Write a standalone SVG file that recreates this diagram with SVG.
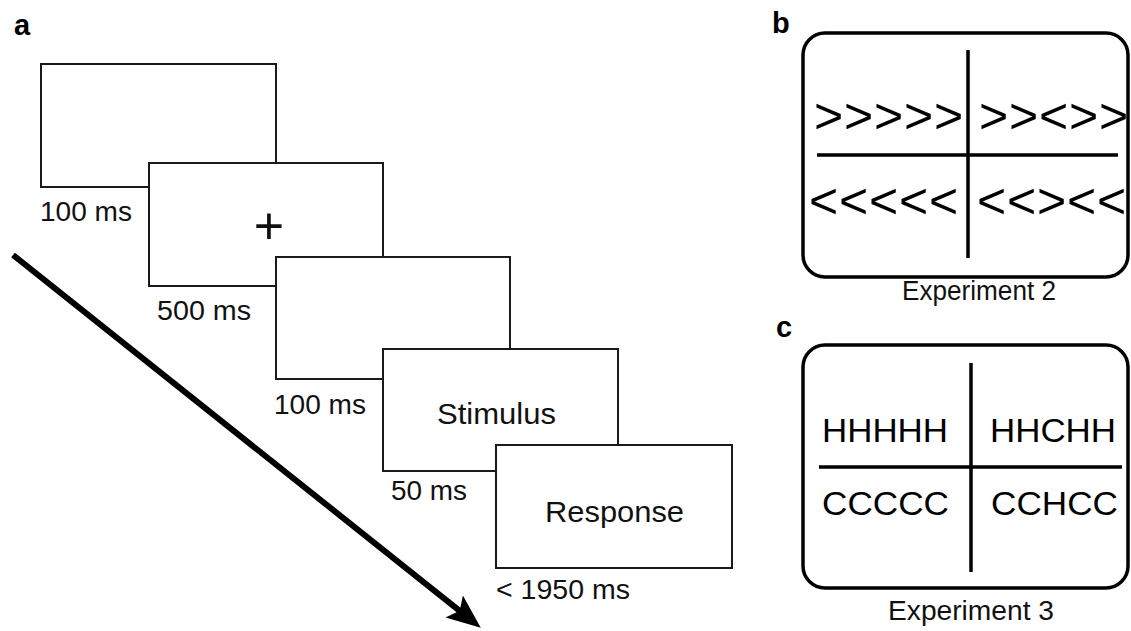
<svg xmlns="http://www.w3.org/2000/svg" width="1131" height="631" viewBox="0 0 1131 631">
<style>
.frame{fill:#fff;stroke:#1a1a1a;stroke-width:2}
.panel{fill:#fff;stroke:#000;stroke-width:3.5}
.div{stroke:#000;stroke-width:3.5;fill:none}
.lbl{font-family:"Liberation Sans",Arial,sans-serif;font-size:27px;fill:#111}
.big{font-family:"Liberation Sans",Arial,sans-serif;font-size:30px;fill:#111}
.let{font-family:"Liberation Sans",Arial,sans-serif;font-size:29px;font-weight:bold;fill:#000}
.chev{font-family:"Liberation Sans",Arial,sans-serif;font-size:50px;fill:#000;letter-spacing:0.8px}
.fl{font-family:"Liberation Sans",Arial,sans-serif;font-size:33px;fill:#000}
.exp{font-family:"Liberation Sans",Arial,sans-serif;font-size:27px;fill:#111}
</style>
<defs>
<marker id="ah" markerUnits="userSpaceOnUse" markerWidth="36" markerHeight="30" refX="11" refY="14" orient="auto">
<path d="M0,0 L34,14 L0,28 L7,14 z" fill="#000"/>
</marker>
</defs>
<rect width="1131" height="631" fill="#fff"/>

<text class="let" x="14" y="35">a</text>
<text class="let" x="772" y="33">b</text>
<text class="let" x="776" y="337">c</text>

<g id="screen1">
<rect class="frame" x="41" y="64" width="235" height="123"/>
<text class="lbl" x="40" y="221" textLength="92" lengthAdjust="spacingAndGlyphs">100 ms</text>
</g>
<g id="screen2">
<rect class="frame" x="149" y="163" width="234" height="123"/>
<text class="big" x="269" y="244" text-anchor="middle" style="font-size:52px">+</text>
<text class="lbl" x="157" y="320" textLength="94" lengthAdjust="spacingAndGlyphs">500 ms</text>
</g>
<g id="screen3">
<rect class="frame" x="276" y="257" width="234" height="122"/>
<text class="lbl" x="274" y="414" textLength="92" lengthAdjust="spacingAndGlyphs">100 ms</text>
</g>
<g id="screen4">
<rect class="frame" x="383" y="349" width="235" height="122"/>
<text class="big" x="437" y="424" textLength="119" lengthAdjust="spacingAndGlyphs">Stimulus</text>
<text class="lbl" x="391" y="500" textLength="76" lengthAdjust="spacingAndGlyphs">50 ms</text>
</g>
<g id="screen5">
<rect class="frame" x="496" y="445" width="236" height="123"/>
<text class="big" x="545" y="522" textLength="139" lengthAdjust="spacingAndGlyphs">Response</text>
<text class="lbl" x="496" y="599" textLength="134" lengthAdjust="spacingAndGlyphs">&lt; 1950 ms</text>
</g>

<g id="connectors">
<path d="M13,255 L462.8,613.3" stroke="#000" stroke-width="6" fill="none" marker-end="url(#ah)"/>
</g>

<g id="panel-b">
<rect class="panel" x="803" y="33" width="325" height="244" rx="22"/>
<line class="div" x1="968" y1="50" x2="968" y2="258"/>
<line class="div" x1="817" y1="155" x2="1118" y2="155"/>
<text class="chev" x="814" y="133">&gt;&gt;&gt;&gt;&gt;</text>
<text class="chev" x="979" y="133">&gt;&gt;&lt;&gt;&gt;</text>
<text class="chev" x="809" y="218">&lt;&lt;&lt;&lt;&lt;</text>
<text class="chev" x="977" y="218">&lt;&lt;&gt;&lt;&lt;</text>
<text class="exp" x="902" y="300" textLength="154" lengthAdjust="spacingAndGlyphs">Experiment 2</text>
</g>

<g id="panel-c">
<rect class="panel" x="803" y="345" width="325" height="243" rx="22"/>
<line class="div" x1="971" y1="363" x2="971" y2="572"/>
<line class="div" x1="819" y1="467" x2="1122" y2="467"/>
<text class="fl" x="822" y="442" textLength="126" lengthAdjust="spacingAndGlyphs">HHHHH</text>
<text class="fl" x="990" y="442" textLength="126" lengthAdjust="spacingAndGlyphs">HHCHH</text>
<text class="fl" x="822" y="515" textLength="127" lengthAdjust="spacingAndGlyphs">CCCCC</text>
<text class="fl" x="991" y="515" textLength="127" lengthAdjust="spacingAndGlyphs">CCHCC</text>
<text class="exp" x="888" y="620" textLength="166" lengthAdjust="spacingAndGlyphs">Experiment 3</text>
</g>
</svg>
